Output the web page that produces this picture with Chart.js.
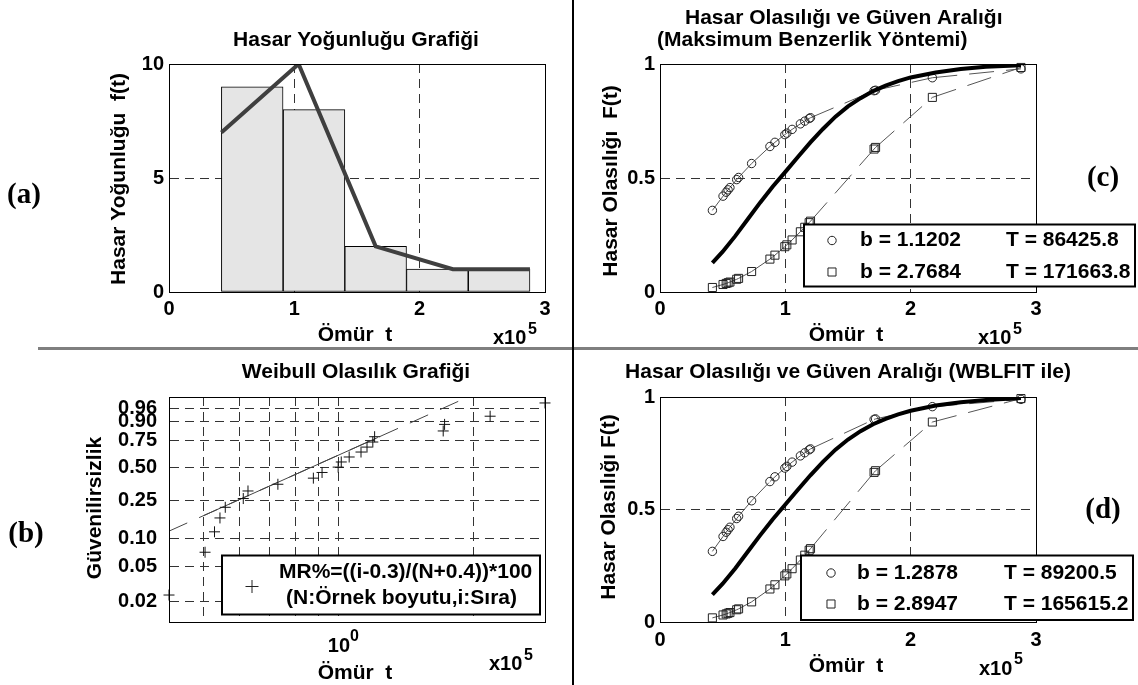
<!DOCTYPE html>
<html><head><meta charset="utf-8">
<script src="https://cdn.jsdelivr.net/npm/chart.js@4.4.1/dist/chart.umd.min.js"></script>
<style>
html,body{margin:0;padding:0;background:#fff;}
#wrap{position:relative;width:1138px;height:685px;overflow:hidden;background:#fff;}
canvas{position:absolute;}
.lbl{position:absolute;font-family:"Liberation Serif","Times New Roman",serif;font-weight:bold;font-size:29px;line-height:1;transform:translate(-50%,-50%);color:#000;white-space:nowrap;}
</style></head><body>
<div id="wrap">
 <canvas id="cA" width="570" height="348" style="left:0px;top:0px"></canvas>
 <canvas id="cC" width="563" height="348" style="left:575px;top:0px"></canvas>
 <canvas id="cB" width="570" height="335" style="left:0px;top:350px"></canvas>
 <canvas id="cD" width="563" height="335" style="left:575px;top:350px"></canvas>
 <div style="position:absolute;left:38px;top:347px;width:1100px;height:3px;background:#7f7f7f"></div>
 <div style="position:absolute;left:572px;top:0px;width:2px;height:685px;background:#000"></div>
 <div class="lbl" style="left:24px;top:193px">(a)</div>
 <div class="lbl" style="left:26px;top:532px">(b)</div>
 <div class="lbl" style="left:1103px;top:176px">(c)</div>
 <div class="lbl" style="left:1103px;top:508px">(d)</div>
</div>
<script>
// ---------------- data (x values in units of 1e5) ----------------
const histCenters = [0.664, 1.157, 1.649, 2.141, 2.634];
const histCounts  = [9, 8, 2, 1, 1];
const densX = [0.418, 1.034, 1.649, 2.265, 2.88];
const densY = [7, 10, 2, 1, 1];

const lifeT = [0.418, 0.503, 0.528, 0.543, 0.558, 0.612, 0.627, 0.731, 0.877, 0.917, 0.996,
               1.012, 1.054, 1.12, 1.155, 1.19, 1.201, 1.708, 1.72, 2.173, 2.88];
const rankP = [0.0238, 0.0714, 0.1190, 0.1667, 0.2143, 0.2619, 0.3095, 0.3571, 0.4048, 0.4524, 0.5000,
               0.5476, 0.5952, 0.6429, 0.6905, 0.7381, 0.7857, 0.8333, 0.8810, 0.9286, 0.9762];
const fitDashT = [0.418, 1.94];
const fitDashP = [0.121, 0.9874];
const fitSolidT = [0.5005, 1.221];
const fitSolidP = [0.1772, 0.7789];
const probTicks = [0.02, 0.05, 0.10, 0.25, 0.50, 0.75, 0.90, 0.96];
const logGridT = [0.5, 0.6, 0.7, 0.8, 0.9, 1, 2];

const curveT = [0.418, 0.5, 0.6, 0.7, 0.8, 0.9, 1.0, 1.1, 1.2, 1.3, 1.4, 1.5, 1.6, 1.7, 1.8, 1.9, 2.0, 2.2, 2.4, 2.6, 2.88];
const curveC = [0.128, 0.177, 0.245, 0.319, 0.393, 0.463, 0.527, 0.592, 0.656, 0.715, 0.769, 0.814, 0.850, 0.881, 0.905, 0.925, 0.941, 0.963, 0.978, 0.988, 0.995];
const curveD = [0.122, 0.170, 0.238, 0.312, 0.386, 0.457, 0.522, 0.588, 0.652, 0.712, 0.766, 0.811, 0.848, 0.879, 0.903, 0.923, 0.939, 0.962, 0.977, 0.987, 0.995];

const circC = [0.3580, 0.4204, 0.4377, 0.4480, 0.4580, 0.4930, 0.5024, 0.5635, 0.6381, 0.6565, 0.6903,
               0.6968, 0.7132, 0.7374, 0.7494, 0.7609, 0.7644, 0.8829, 0.8849, 0.9397, 0.9787];
const sqC   = [0.0198, 0.0329, 0.0375, 0.0405, 0.0436, 0.0559, 0.0597, 0.0898, 0.1443, 0.1616, 0.1987,
               0.2067, 0.2283, 0.2641, 0.2839, 0.3041, 0.3106, 0.6270, 0.6341, 0.8535, 0.9848];
const circD = [0.3139, 0.3801, 0.3989, 0.4101, 0.4211, 0.4597, 0.4701, 0.5388, 0.6241, 0.6452, 0.6842,
               0.6916, 0.7106, 0.7383, 0.7521, 0.7653, 0.7693, 0.9006, 0.9027, 0.9571, 0.9892];
const sqD   = [0.0184, 0.0313, 0.0359, 0.0389, 0.0420, 0.0545, 0.0583, 0.0895, 0.1468, 0.1653, 0.2051,
               0.2136, 0.2369, 0.2755, 0.2969, 0.3189, 0.3260, 0.6649, 0.6723, 0.8887, 0.9930];

const legendC_b = ['b = 1.1202', 'b = 2.7684'];
const legendC_T = ['T = 86425.8', 'T = 171663.8'];
const legendD_b = ['b = 1.2878', 'b = 2.8947'];
const legendD_T = ['T = 89200.5', 'T = 165615.2'];
const legendB = ['MR%=((i-0.3)/(N+0.4))*100', '(N:Örnek boyutu,i:Sıra)'];

// ---------------- setup ----------------
const FONT = '"Liberation Sans", Arial, Helvetica, sans-serif';
Chart.defaults.font.family = FONT;
Chart.defaults.font.size = 20;
Chart.defaults.font.weight = 'bold';
Chart.defaults.color = '#000';
Chart.defaults.animation = false;
Chart.defaults.plugins.legend.display = false;
Chart.defaults.plugins.tooltip.enabled = false;

// Weibull probability scale: linear in ln(-ln(1-p))
const wb = p => Math.log(-Math.log(1 - p));
const iwb = w => 1 - Math.exp(-Math.exp(w));
class WeibullScale extends Chart.LinearScale {
  determineDataLimits() { this.min = this.options.min; this.max = this.options.max; }
  buildTicks() { return []; }
  configure() { super.configure(); this._wMin = wb(this.min); this._wMax = wb(this.max); }
  getPixelForValue(v) { return this.getPixelForDecimal((wb(v) - this._wMin) / (this._wMax - this._wMin)); }
  getValueForPixel(px) { return iwb(this._wMin + this.getDecimalForPixel(px) * (this._wMax - this._wMin)); }
}
WeibullScale.id = 'weibull';
WeibullScale.defaults = {};
Chart.register(WeibullScale);

const pts = (xs, ys) => xs.map((x, i) => ({x: x, y: ys[i]}));
const GRID = {color: '#333', lineWidth: 1, drawTicks: false, offset: false};
const BORDER = {color: '#000', width: 1, dash: [9, 6]};
const DASH_A = [25, 12], DASH_B = [25, 12.0001];
const segDash = {borderDash: ctx => (ctx.p0DataIndex % 2 ? DASH_A : DASH_B)};
const plainNum = v => String(Math.round(v * 100) / 100);

function drawMarker(ctx, kind, x, y, r) {
  ctx.save(); ctx.strokeStyle = '#222'; ctx.lineWidth = 1; ctx.beginPath();
  if (kind === 'circle') ctx.arc(x, y, r, 0, Math.PI * 2);
  else if (kind === 'rect') { const s = r * Math.SQRT1_2; ctx.rect(x - s, y - s, 2 * s, 2 * s); }
  else { ctx.moveTo(x - r, y); ctx.lineTo(x + r, y); ctx.moveTo(x, y - r); ctx.lineTo(x, y + r); }
  ctx.stroke(); ctx.restore();
}
function drawText(ctx, o) {
  ctx.save();
  ctx.font = 'bold ' + o.size + 'px ' + FONT;
  ctx.fillStyle = '#000';
  ctx.textAlign = o.align || 'center';
  ctx.textBaseline = 'middle';
  ctx.translate(o.x, o.y);
  if (o.rot) ctx.rotate(o.rot * Math.PI / 180);
  ctx.fillText(o.t, 0, 0);
  ctx.restore();
}
function deco(spec) {
  return {
    id: 'deco',
    afterDatasetsDraw(chart) {
      const a = chart.chartArea, ctx = chart.ctx;
      ctx.save(); ctx.strokeStyle = '#000'; ctx.lineWidth = 1;
      ctx.strokeRect(Math.round(a.left) + 0.5, Math.round(a.top) + 0.5, Math.round(a.right - a.left), Math.round(a.bottom - a.top));
      ctx.restore();
    },
    afterDraw(chart) {
      const ctx = chart.ctx;
      if (spec.legend) {
        const L = spec.legend, b = L.box;
        ctx.save(); ctx.fillStyle = '#fff'; ctx.strokeStyle = '#000'; ctx.lineWidth = 2;
        ctx.fillRect(b[0], b[1], b[2] - b[0], b[3] - b[1]);
        ctx.strokeRect(b[0], b[1], b[2] - b[0], b[3] - b[1]);
        ctx.restore();
        L.markers.forEach(m => drawMarker(ctx, m.kind, m.x, m.y, m.r));
        L.texts.forEach(t => drawText(ctx, t));
      }
      spec.texts.forEach(t => drawText(ctx, t));
    }
  };
}
function baseOpts(pad) {
  return {responsive: false, devicePixelRatio: 1, animation: false, layout: {padding: pad}};
}

// ---------------- (a) histogram ----------------
new Chart(document.getElementById('cA'), {
  type: 'bar',
  data: {datasets: [
    {type: 'line', data: pts(densX, densY), borderColor: '#3f3f3f', borderWidth: 4, pointRadius: 0, tension: 0},
    {type: 'bar', data: pts(histCenters, histCounts), backgroundColor: '#e5e5e5', borderColor: '#000',
     borderWidth: 1, borderSkipped: false, barPercentage: 1, categoryPercentage: 1}
  ]},
  options: Object.assign(baseOpts({left: 0, top: 64, right: 25, bottom: 26}), {
    scales: {
      x: {type: 'linear', min: 0, max: 3, offset: false, bounds: 'data',
          ticks: {stepSize: 1, padding: 5, maxRotation: 0, autoSkip: false, callback: plainNum},
          grid: GRID, border: BORDER, afterFit: s => { s.height = 30; }},
      y: {type: 'linear', min: 0, max: 10, ticks: {stepSize: 5, padding: 5, callback: plainNum},
          grid: GRID, border: BORDER, afterFit: s => { s.width = 169; }}
    }
  }),
  plugins: [deco({texts: [
    {t: 'Hasar Yoğunluğu Grafiği', x: 356, y: 40, size: 21},
    {t: 'Hasar Yoğunluğu  f(t)', x: 119, y: 179, size: 21, rot: -90},
    {t: 'Ömür  t', x: 355, y: 335, size: 21},
    {t: 'x10', x: 493, y: 338, size: 20, align: 'left'},
    {t: '5', x: 528, y: 330, size: 16, align: 'left'}
  ]})]
});

// ---------------- (c) / (d) probability with bounds ----------------
function probChart(id, curve, circ, sq, pad, texts, legend) {
  return new Chart(document.getElementById(id), {
    type: 'line',
    data: {datasets: [
      {data: pts(curveT, curve), borderColor: '#000', borderWidth: 4, pointRadius: 0, tension: 0},
      {data: pts(lifeT, circ), borderColor: '#555', borderWidth: 1, segment: segDash, clip: false,
       pointStyle: 'circle', pointRadius: 4.2, pointBorderColor: '#222', pointBackgroundColor: 'rgba(0,0,0,0)', pointBorderWidth: 1},
      {data: pts(lifeT, sq), borderColor: '#555', borderWidth: 1, segment: segDash, clip: false,
       pointStyle: 'rect', pointRadius: 5.7, pointBorderColor: '#222', pointBackgroundColor: 'rgba(0,0,0,0)', pointBorderWidth: 1}
    ]},
    options: Object.assign(baseOpts(pad.layout), {
      scales: {
        x: {type: 'linear', min: 0, max: 3, bounds: 'data',
            ticks: {stepSize: 1, padding: pad.xpad, maxRotation: 0, autoSkip: false, callback: plainNum},
            grid: GRID, border: BORDER, afterFit: s => { s.height = 30; }},
        y: {type: 'linear', min: 0, max: 1, ticks: {stepSize: 0.5, padding: 5, callback: plainNum},
            grid: GRID, border: BORDER, afterFit: s => { s.width = 85; }}
      }
    }),
    plugins: [deco({texts: texts, legend: legend})]
  });
}
probChart('cC', curveC, circC, sqC, {layout: {left: 0, top: 64, right: 102, bottom: 26}, xpad: 5}, [
  {t: 'Hasar Olasılığı ve Güven Aralığı', x: 110, y: 18, size: 21, align: 'left'},
  {t: '(Maksimum Benzerlik Yöntemi)', x: 82, y: 40, size: 21, align: 'left'},
  {t: 'Hasar Olasılığı  F(t)', x: 36, y: 181, size: 21, rot: -90},
  {t: 'Ömür  t', x: 271, y: 335, size: 21},
  {t: 'x10', x: 403, y: 338, size: 20, align: 'left'},
  {t: '5', x: 438, y: 330, size: 16, align: 'left'}
], {
  box: [229, 224.5, 560, 286.5],
  markers: [{kind: 'circle', x: 257, y: 240.5, r: 4.2}, {kind: 'rect', x: 257, y: 272, r: 5.7}],
  texts: [
    {t: legendC_b[0], x: 285, y: 240.5, size: 21, align: 'left'},
    {t: legendC_T[0], x: 431, y: 240.5, size: 21, align: 'left'},
    {t: legendC_b[1], x: 285, y: 272, size: 21, align: 'left'},
    {t: legendC_T[1], x: 431, y: 272, size: 21, align: 'left'}
  ]
});
probChart('cD', curveD, circD, sqD, {layout: {left: 0, top: 47, right: 102, bottom: 33}, xpad: 6}, [
  {t: 'Hasar Olasılığı ve Güven Aralığı (WBLFIT ile)', x: 273, y: 22.5, size: 21},
  {t: 'Hasar Olasılığı F(t)', x: 34, y: 157, size: 21, rot: -90},
  {t: 'Ömür  t', x: 271, y: 316, size: 21},
  {t: 'x10', x: 404, y: 319, size: 20, align: 'left'},
  {t: '5', x: 439, y: 310, size: 16, align: 'left'}
], {
  box: [226, 205.5, 558, 270],
  markers: [{kind: 'circle', x: 256, y: 223, r: 4.2}, {kind: 'rect', x: 256, y: 254, r: 5.7}],
  texts: [
    {t: legendD_b[0], x: 282, y: 223, size: 21, align: 'left'},
    {t: legendD_T[0], x: 429, y: 223, size: 21, align: 'left'},
    {t: legendD_b[1], x: 282, y: 254, size: 21, align: 'left'},
    {t: legendD_T[1], x: 429, y: 254, size: 21, align: 'left'}
  ]
});

// ---------------- (b) Weibull probability plot ----------------
new Chart(document.getElementById('cB'), {
  type: 'scatter',
  data: {datasets: [
    {data: pts(lifeT, rankP), showLine: false, pointStyle: 'cross', pointRadius: 5.5,
     pointBorderColor: '#111', pointBorderWidth: 1, clip: false},
    {data: pts(fitSolidT, fitSolidP), showLine: true, borderColor: '#444', borderWidth: 1, pointRadius: 0},
    {data: pts(fitDashT, fitDashP), showLine: true, borderColor: '#444', borderWidth: 1, borderDash: [20, 13], pointRadius: 0}
  ]},
  options: Object.assign(baseOpts({left: 0, top: 47, right: 25, bottom: 33}), {
    scales: {
      x: {type: 'logarithmic', min: lifeT[0], max: lifeT[lifeT.length - 1], bounds: 'data',
          afterBuildTicks: ax => { ax.ticks = logGridT.map(v => ({value: v})); },
          ticks: {autoSkip: false, maxRotation: 0, padding: 12, callback: v => (v === 1 ? '10' : '')},
          grid: GRID, border: BORDER, afterFit: s => { s.height = 30; }},
      y: {type: 'weibull', min: 0.011788, max: 0.98737,
          afterBuildTicks: ax => { ax.ticks = probTicks.map(v => ({value: v})); },
          ticks: {autoSkip: false, padding: 12, callback: v => v.toFixed(2)},
          grid: GRID, border: BORDER, afterFit: s => { s.width = 169; }}
    }
  }),
  plugins: [deco({texts: [
    {t: 'Weibull Olasılık Grafiği', x: 356, y: 22.5, size: 21},
    {t: 'Güvenilirsizlik', x: 95.5, y: 158, size: 21, rot: -90},
    {t: '0', x: 350, y: 287, size: 16, align: 'left'},
    {t: 'Ömür  t', x: 355, y: 323, size: 21},
    {t: 'x10', x: 489, y: 314, size: 20, align: 'left'},
    {t: '5', x: 524, y: 306, size: 16, align: 'left'}
  ], legend: {
    box: [222, 205.5, 540, 264.5],
    markers: [{kind: 'cross', x: 252, y: 236.5, r: 6.5}],
    texts: [
      {t: legendB[0], x: 279, y: 222.5, size: 21, align: 'left'},
      {t: legendB[1], x: 286, y: 248, size: 21, align: 'left'}
    ]
  }})]
});
</script>
</body></html>
